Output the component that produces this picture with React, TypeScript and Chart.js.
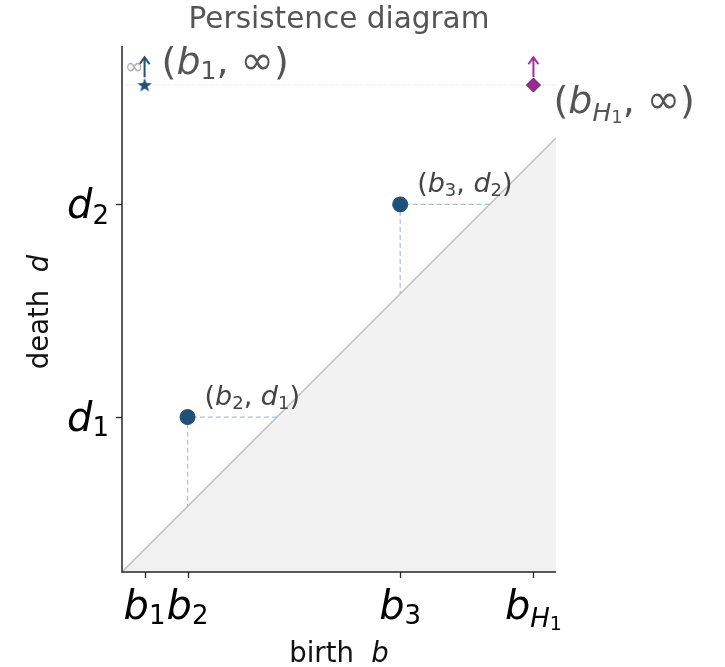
import React, { useEffect, useRef } from 'react';
import { Chart, registerables } from 'chart.js';
Chart.register(...registerables);

// ---- data ----
const xMin = 0;
const xMax = 1;
const yMin = 0;
const yMax = 1.212;
const birthTicks = [0.052, 0.151, 0.641, 0.948];
const birthTickSubs = ['1', '2', '3', 'H1'];
const deathTicks = [0.357, 0.847];
const deathTickSubs = ['1', '2'];
const finiteBirths = [0.151, 0.641];
const finiteDeaths = [0.357, 0.847];
const finiteBirthSubs = ['2', '3'];
const finiteDeathSubs = ['1', '2'];
const essentialBirths = [0.052, 0.948];
const essentialSubs = ['1', 'H1'];
const infinityLevel = 1.122;
const arrowBase = 1.14;
const arrowTip = 1.186;
const infLineStart = 0.01;
const infLineEnd = 1.0;
const titleText = 'Persistence diagram';
const xLabelText = 'birth  ';
const xLabelVar = 'b';
const yLabelText = 'death  ';
const yLabelVar = 'd';

const FONT = '"DejaVu Sans", sans-serif';
const BLUE = '#1f5077';
const PURPLE = '#9c2a94';

type Seg = { t: string; it?: boolean; s: number; dy?: number };

function segFont(g: Seg) {
  return `${g.it ? 'italic ' : ''}${g.s}px ${FONT}`;
}

function drawSegs(ctx: CanvasRenderingContext2D, segs: Seg[], x: number, y: number, align: string, color: string) {
  let total = 0;
  const widths = segs.map((g) => {
    ctx.font = segFont(g);
    const w = ctx.measureText(g.t).width;
    total += w;
    return w;
  });
  let cx = align === 'center' ? x - total / 2 : align === 'right' ? x - total : x;
  ctx.fillStyle = color;
  ctx.textAlign = 'left';
  ctx.textBaseline = 'alphabetic';
  segs.forEach((g, i) => {
    ctx.font = segFont(g);
    ctx.fillText(g.t, cx, y + (g.dy || 0));
    cx += widths[i];
  });
}

function subSegs(key: string, S: number): Seg[] {
  if (key === 'H1') {
    return [
      { t: 'H', it: true, s: Math.round(S * 0.66), dy: S * 0.2 },
      { t: '1', s: Math.round(S * 0.48), dy: S * 0.27 },
    ];
  }
  return [{ t: key, s: Math.round(S * 0.66), dy: S * 0.13 }];
}

function varSegs(v: string, key: string, S: number): Seg[] {
  return [{ t: v, it: true, s: S }, ...subSegs(key, S)];
}

function makeStar(color: string) {
  const c = document.createElement('canvas');
  c.width = 16;
  c.height = 16;
  const g = c.getContext('2d')!;
  g.fillStyle = color;
  g.beginPath();
  for (let i = 0; i < 10; i++) {
    const r = i % 2 === 0 ? 7.5 : 3.1;
    const ang = -Math.PI / 2 + (i * Math.PI) / 5;
    const px = 8 + r * Math.cos(ang);
    const py = 8.5 + r * Math.sin(ang);
    if (i === 0) g.moveTo(px, py);
    else g.lineTo(px, py);
  }
  g.closePath();
  g.fill();
  return c;
}

const overlay = {
  id: 'overlay',
  afterDraw(chart: any) {
    const { ctx, chartArea: a, scales } = chart;
    const xs = scales.x;
    const ys = scales.y;
    ctx.save();
    // spines
    ctx.strokeStyle = '#262626';
    ctx.lineWidth = 1.5;
    ctx.beginPath();
    ctx.moveTo(a.left, a.top);
    ctx.lineTo(a.left, a.bottom);
    ctx.lineTo(a.right, a.bottom);
    ctx.stroke();
    // tick marks
    ctx.lineWidth = 1.3;
    birthTicks.forEach((v) => {
      const px = Math.round(xs.getPixelForValue(v)) + 0.5;
      ctx.beginPath();
      ctx.moveTo(px, a.bottom);
      ctx.lineTo(px, a.bottom + 6);
      ctx.stroke();
    });
    deathTicks.forEach((v) => {
      const py = Math.round(ys.getPixelForValue(v)) + 0.5;
      ctx.beginPath();
      ctx.moveTo(a.left, py);
      ctx.lineTo(a.left - 6, py);
      ctx.stroke();
    });
    // tick labels
    birthTicks.forEach((v, i) => {
      drawSegs(ctx, varSegs('b', birthTickSubs[i], 40), xs.getPixelForValue(v), a.bottom + 47, 'center', '#000');
    });
    deathTicks.forEach((v, i) => {
      drawSegs(ctx, varSegs('d', deathTickSubs[i], 40), a.left - 13, ys.getPixelForValue(v) + 14, 'right', '#000');
    });
    // arrows for essential classes
    essentialBirths.forEach((b, i) => {
      const px = xs.getPixelForValue(b);
      const y0 = ys.getPixelForValue(arrowBase);
      const y1 = ys.getPixelForValue(arrowTip);
      ctx.strokeStyle = i === 0 ? BLUE : '#a62a9e';
      ctx.lineWidth = 2;
      ctx.beginPath();
      ctx.moveTo(px, y0);
      ctx.lineTo(px, y1);
      ctx.moveTo(px - 5, y1 + 7);
      ctx.lineTo(px, y1);
      ctx.lineTo(px + 5, y1 + 7);
      ctx.stroke();
    });
    // gray infinity near axis
    ctx.font = `23px ${FONT}`;
    ctx.fillStyle = '#b0b0b0';
    ctx.textAlign = 'center';
    ctx.textBaseline = 'alphabetic';
    ctx.fillText('∞', a.left + 12, ys.getPixelForValue(infinityLevel) - 11);
    // annotations finite points
    finiteBirths.forEach((b, i) => {
      const S = 27;
      const segs: Seg[] = [
        { t: '(', s: S },
        ...varSegs('b', finiteBirthSubs[i], S),
        { t: ', ', s: S },
        ...varSegs('d', finiteDeathSubs[i], S),
        { t: ')', s: S },
      ];
      drawSegs(ctx, segs, xs.getPixelForValue(b) + 17, ys.getPixelForValue(finiteDeaths[i]) - 12, 'left', '#444');
    });
    // annotations essential points
    essentialBirths.forEach((b, i) => {
      const S = 38;
      const segs: Seg[] = [
        { t: '(', s: S },
        ...varSegs('b', essentialSubs[i], S),
        { t: ', ', s: S },
        { t: '∞', s: S + 2 },
        { t: ')', s: S },
      ];
      const px = xs.getPixelForValue(b);
      const py = ys.getPixelForValue(infinityLevel);
      if (i === 0) drawSegs(ctx, segs, px + 17, py - 11, 'left', '#555');
      else drawSegs(ctx, segs, px + 20, py + 28, 'left', '#555');
    });
    // title
    ctx.font = `29.5px ${FONT}`;
    ctx.fillStyle = '#555';
    ctx.textAlign = 'center';
    ctx.fillText(titleText, (a.left + a.right) / 2, a.top - 18);
    // x label
    drawSegs(ctx, [{ t: xLabelText, s: 27.5 }, { t: xLabelVar, it: true, s: 27.5 }], (a.left + a.right) / 2, a.bottom + 90, 'center', '#111');
    // y label
    ctx.save();
    ctx.translate(a.left - 74, (a.top + a.bottom) / 2 + 3);
    ctx.rotate(-Math.PI / 2);
    drawSegs(ctx, [{ t: yLabelText, s: 27.5 }, { t: yLabelVar, it: true, s: 27.5 }], 0, 0, 'center', '#111');
    ctx.restore();
    ctx.restore();
  },
};

export default function App() {
  const ref = useRef<HTMLCanvasElement>(null);
  useEffect(() => {
    const canvas = ref.current!;
    const star = makeStar(BLUE);
    const datasets: any[] = [
      {
        label: 'essential H0',
        data: [{ x: essentialBirths[0], y: infinityLevel }],
        showLine: false,
        pointStyle: star,
        pointRadius: 8,
      },
      {
        label: 'essential H1',
        data: [{ x: essentialBirths[1], y: infinityLevel }],
        showLine: false,
        pointStyle: 'rectRot',
        pointRadius: 7,
        pointBackgroundColor: PURPLE,
        pointBorderColor: '#5b1a57',
        pointBorderWidth: 1,
      },
      {
        label: 'finite',
        data: finiteBirths.map((b, i) => ({ x: b, y: finiteDeaths[i] })),
        showLine: false,
        pointStyle: 'circle',
        pointRadius: 7.5,
        pointBackgroundColor: BLUE,
        pointBorderColor: BLUE,
        pointBorderWidth: 1,
      },
      ...finiteBirths.map((b, i) => ({
        label: 'guide' + i,
        data: [
          { x: finiteDeaths[i], y: finiteDeaths[i] },
          { x: b, y: finiteDeaths[i] },
          { x: b, y: b },
        ],
        borderColor: 'rgba(150,186,210,0.85)',
        borderWidth: 1.2,
        borderDash: [5, 3],
        pointRadius: 0,
        fill: false,
      })),
      {
        label: 'infinity',
        data: [
          { x: infLineStart, y: infinityLevel },
          { x: infLineEnd, y: infinityLevel },
        ],
        borderColor: '#d4d4d4',
        borderWidth: 1,
        borderDash: [1, 2],
        pointRadius: 0,
        fill: false,
      },
      {
        label: 'diagonal',
        data: [
          { x: xMin, y: xMin },
          { x: xMax, y: xMax },
        ],
        borderColor: '#bdbdbd',
        borderWidth: 1.5,
        pointRadius: 0,
        fill: 'origin',
        backgroundColor: '#f2f2f2',
      },
    ];
    const chart = new Chart(canvas, {
      type: 'line',
      data: { datasets },
      options: {
        animation: false,
        responsive: false,
        devicePixelRatio: 1,
        layout: { padding: { left: 122, top: 46, right: 169, bottom: 95 } },
        plugins: { legend: { display: false }, tooltip: { enabled: false }, title: { display: false } },
        scales: {
          x: {
            type: 'linear',
            min: xMin,
            max: xMax,
            ticks: { display: false },
            grid: { display: false, drawTicks: false },
            border: { display: false },
          },
          y: {
            type: 'linear',
            min: yMin,
            max: yMax,
            ticks: { display: false },
            grid: { display: false, drawTicks: false },
            border: { display: false },
          },
        },
      },
      plugins: [overlay],
    });
    return () => chart.destroy();
  }, []);
  return (
    <div style={{ position: 'fixed', left: 0, top: 0, width: 725, height: 667, background: '#fff' }}>
      <canvas ref={ref} width={725} height={667} />
    </div>
  );
}
